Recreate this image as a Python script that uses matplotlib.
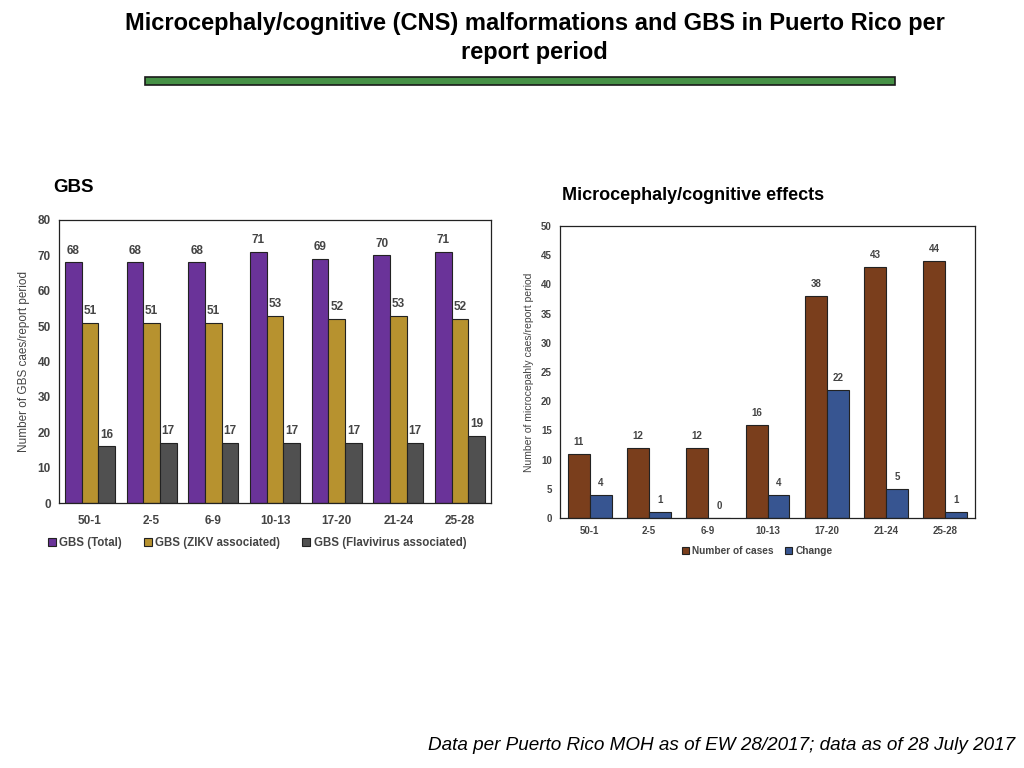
import numpy as np
import matplotlib.pyplot as plt
from matplotlib.patches import Rectangle

plt.rcParams['font.family'] = ['Liberation Sans', 'DejaVu Sans']

periods = ['50-1', '2-5', '6-9', '10-13', '17-20', '21-24', '25-28']
gbs_total = [68, 68, 68, 71, 69, 70, 71]
gbs_zikv = [51, 51, 51, 53, 52, 53, 52]
gbs_flavi = [16, 17, 17, 17, 17, 17, 19]
micro_cases = [11, 12, 12, 16, 38, 43, 44]
micro_change = [4, 1, 0, 4, 22, 5, 1]

gray = '#444444'

fig = plt.figure(figsize=(10.24, 7.68), dpi=100)

# title and green rule
fig.text(0.522, 1 - 12 / 768, 'Microcephaly/cognitive (CNS) malformations and GBS in Puerto Rico per\nreport period',
         ha='center', va='top', fontsize=17, fontweight='bold', linespacing=1.33)
fig.patches.append(Rectangle((145 / 1024, 1 - 85 / 768), 750 / 1024, 8 / 768,
                             transform=fig.transFigure, facecolor='#469146',
                             edgecolor='#1a1a1a', linewidth=1.2))

fig.text(53 / 1024, 1 - 188 / 768, 'GBS', fontsize=13.5, fontweight='bold', va='center')
fig.text(562 / 1024, 1 - 195 / 768, 'Microcephaly/cognitive effects', fontsize=13,
         fontweight='bold', va='center')
fig.text(1015 / 1024, 1 - 745 / 768,
         'Data per Puerto Rico MOH as of EW 28/2017; data as of 28 July 2017',
         ha='right', va='center', fontsize=13.6, style='italic')


def style_axes(ax, size, xpad):
    for s in ax.spines.values():
        s.set_color('#222222')
        s.set_linewidth(0.9)
    ax.tick_params(length=0, labelsize=size, colors=gray, pad=6)
    ax.tick_params(axis='x', pad=xpad)
    for lab in ax.get_xticklabels() + ax.get_yticklabels():
        lab.set_fontweight('bold')


# left: GBS
ax1 = fig.add_axes([59 / 1024, 1 - 503 / 768, 432 / 1024, 283 / 768])
x = np.arange(len(periods))
w = 0.27
series1 = [(gbs_total, '#6a3399', 'GBS (Total)'),
           (gbs_zikv, '#b7922f', 'GBS (ZIKV associated)'),
           (gbs_flavi, '#505050', 'GBS (Flavivirus associated)')]
for i, (vals, col, lab) in enumerate(series1):
    bars = ax1.bar(x + (i - 1) * w, vals, w, color=col, edgecolor='#222222',
                   linewidth=0.8, label=lab)
    for b, v in zip(bars, vals):
        ax1.text(b.get_x() + b.get_width() / 2, v + 1.6, str(v), ha='center',
                 va='bottom', fontsize=8.5, fontweight='bold', color=gray)
ax1.set_xlim(-0.5, len(periods) - 0.5)
ax1.set_ylim(0, 80)
ax1.set_yticks(range(0, 81, 10))
ax1.set_xticks(x)
ax1.set_xticklabels(periods)
ax1.set_ylabel('Number of GBS caes/report period', fontsize=8.5, color=gray, labelpad=5)
style_axes(ax1, 8.5, 9)
ax1.legend(loc='upper left', bbox_to_anchor=(-0.05, -0.085), ncol=3, frameon=False,
           handlelength=0.7, handleheight=0.7, handletextpad=0.3,
           columnspacing=1.9, labelcolor=gray, prop={'weight': 'bold', 'size': 8.3})

# right: microcephaly
ax2 = fig.add_axes([560 / 1024, 1 - 518 / 768, 415 / 1024, 292 / 768])
w2 = 0.37
series2 = [(micro_cases, '#7a3e1c', 'Number of cases'),
           (micro_change, '#375591', 'Change')]
for i, (vals, col, lab) in enumerate(series2):
    bars = ax2.bar(x + (i - 0.5) * w2, vals, w2, color=col, edgecolor='#222222',
                   linewidth=0.8, label=lab)
    for b, v in zip(bars, vals):
        ax2.text(b.get_x() + b.get_width() / 2, v + 1.2, str(v), ha='center',
                 va='bottom', fontsize=7, fontweight='bold', color=gray)
ax2.set_xlim(-0.5, len(periods) - 0.5)
ax2.set_ylim(0, 50)
ax2.set_yticks(range(0, 51, 5))
ax2.set_xticks(x)
ax2.set_xticklabels(periods)
ax2.set_ylabel('Number of microcepahly caes/report period', fontsize=7.5, color=gray,
               labelpad=5)
style_axes(ax2, 7, 6)
ax2.legend(loc='upper center', bbox_to_anchor=(0.475, -0.065), ncol=2, frameon=False,
           handlelength=0.7, handleheight=0.7, handletextpad=0.3, columnspacing=1.2,
           labelcolor=gray, prop={'weight': 'bold', 'size': 7.3})

fig.savefig('out.png', dpi=100)
